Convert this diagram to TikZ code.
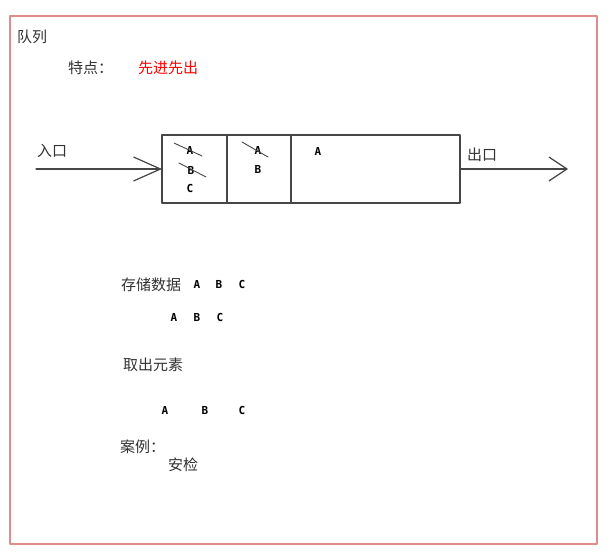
\documentclass[tikz,border=0pt]{standalone}
\usepackage{fontspec}
\setmainfont{Noto Sans CJK SC}
\newfontfamily\letterfont{DejaVu Sans Mono}
\usetikzlibrary{positioning,arrows.meta}
\definecolor{framered}{RGB}{222,140,140}
\definecolor{linegray}{RGB}{70,70,70}
\definecolor{textgray}{RGB}{50,50,50}
\tikzset{
    cell/.style={draw=linegray, line width=1.2pt, minimum height=68pt, inner sep=0pt, outer sep=0pt},
    zh/.style={anchor=west, inner sep=0pt, text=textgray, font=\fontsize{15}{18}\selectfont},
    letter/.style={inner sep=0pt, font=\fontsize{11}{13}\selectfont\letterfont\bfseries},
    strike/.style={draw=linegray, line width=0.9pt}
}
\begin{document}
\begin{tikzpicture}[x=1pt, y=-1pt, line join=round, line 
        cap=round, >={Straight Barb[length=27pt,width=24pt]}]
        \useasboundingbox (0,0) rectangle (611,557);
        \draw[framered, line width=1.8pt] (10,16) rectangle (597,544);
        
        \node[zh] (title) at (17,37) {队列};
        \node[zh] (feature) at (68,68) {特点：};
        \node[zh, text=red] (fifo) at (138,68) {先进先出};
        
        %\draw[gray!0] (0,0) grid (611,557);
        \node[cell, minimum width=65pt] (c1) at (194.5,169) {};
        \node[cell, minimum width=64pt, right=0pt of c1] (c2) {};
        \node[cell, minimum width=169pt, right=0pt of c2] (c3) {};
        
        \coordinate (in) at (36,169);
        \coordinate (out) at (568,169);
        \node[zh] (inlabel) at (37,151) {入口};
        \node[zh] (outlabel) at (467,155) {出口};
        \draw[->, linegray, line width=1.2pt] (in) -- (c1.west);
        \draw[->, linegray, line width=1.2pt, >={Straight Barb[length=18pt,width=24pt]}] (c3.east) -- (out);
        
        \node[letter] (a1) at (190,150) {A};
        \node[letter] (b1) at (191,170) {B};
        \node[letter] (k1) at (190,188) {C};
        \node[letter] (a2) at (258,150) {A};
        \node[letter] (b2) at (258,169) {B};
        \node[letter] (a3) at (318,151) {A};
        \draw[strike] ([shift={(-16,-7)}]a1.center) -- ([shift={(12,6)}]a1.center);
        \draw[strike] ([shift={(-12,-7)}]b1.center) -- ([shift={(15,7)}]b1.center);
        \draw[strike] ([shift={(-16,-8)}]a2.center) -- ([shift={(10,7)}]a2.center);
        
        \node[zh] (store) at (121,285) {存储数据};
        \node[letter] (sa) at (197,284) {A};
        \node[letter] (sb) at (219,284) {B};
        \node[letter] (sc) at (242,284) {C};
        \node[letter] (qa) at (174,317) {A};
        \node[letter] (qb) at (197,317) {B};
        \node[letter] (qc) at (220,317) {C};
        
        \node[zh] (take) at (123,365) {取出元素};
        \node[letter] (ta) at (165,410) {A};
        \node[letter] (tb) at (205,410) {B};
        \node[letter] (tc) at (242,410) {C};
        
        \node[zh] (case) at (120,447) {案例：};
        \node[zh] (check) at (168,465) {安检};
        
    \end{tikzpicture}
\end{document}
